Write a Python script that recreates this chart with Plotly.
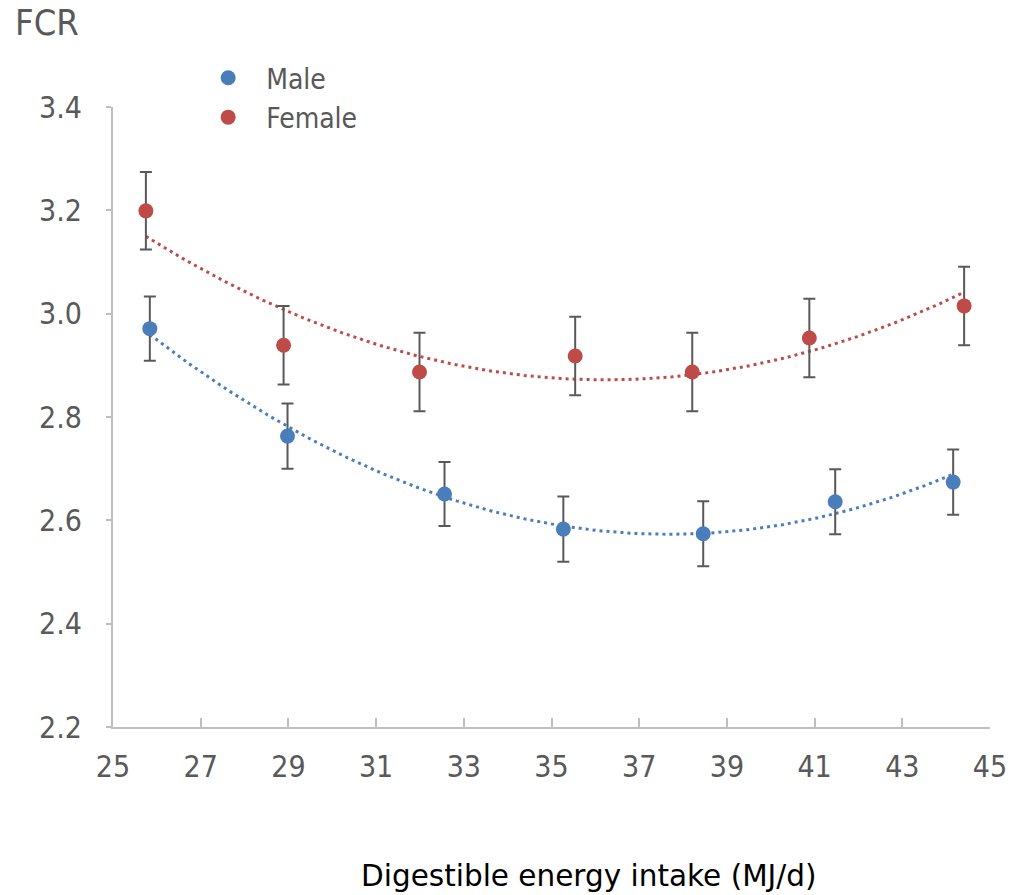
import numpy as np
import plotly.graph_objects as go

# Digestible energy intake (MJ/d) and FCR by sex
male_x = [25.84, 28.98, 32.56, 35.27, 38.46, 41.47, 44.16]
male_y = [2.971, 2.763, 2.651, 2.583, 2.574, 2.636, 2.674]
male_err = [0.062, 0.063, 0.062, 0.063, 0.063, 0.063, 0.063]

female_x = [25.75, 28.89, 31.99, 35.54, 38.21, 40.88, 44.41]
female_y = [3.199, 2.939, 2.887, 2.918, 2.887, 2.953, 3.015]
female_err = [0.075, 0.076, 0.076, 0.076, 0.076, 0.076, 0.076]

x_ticks = [25, 27, 29, 31, 33, 35, 37, 39, 41, 43, 45]
y_ticks = [2.2, 2.4, 2.6, 2.8, 3.0, 3.2, 3.4]

BLUE = "#4A7EBB"
RED = "#BE4B48"
GREY = "#595959"
FONT = "DejaVu Sans Condensed"


def trend(xs, ys):
    """Second-order polynomial trendline over the span of the data."""
    coef = np.polyfit(xs, ys, 2)
    xx = np.linspace(min(xs), max(xs), 200)
    return xx, np.polyval(coef, xx)


fig = go.Figure()

for xs, ys, col in [(female_x, female_y, RED), (male_x, male_y, BLUE)]:
    tx, ty = trend(xs, ys)
    fig.add_trace(go.Scatter(x=tx, y=ty, mode="lines", showlegend=False,
                             hoverinfo="skip",
                             line=dict(color=col, width=3, dash="3px,4px")))

for name, xs, ys, err, col in [("Male", male_x, male_y, male_err, BLUE),
                               ("Female", female_x, female_y, female_err, RED)]:
    fig.add_trace(go.Scatter(
        x=xs, y=ys, mode="markers", name=name,
        marker=dict(color=col, size=15),
        error_y=dict(type="data", array=err, visible=True,
                     color=GREY, thickness=2, width=6),
    ))

fig.update_layout(
    width=1019, height=895,
    margin=dict(l=113, r=22, t=107, b=168),
    plot_bgcolor="white", paper_bgcolor="white",
    font=dict(family=FONT, color=GREY, size=28),
    legend=dict(x=0.088, y=1.087, xanchor="left", yanchor="top",
                bgcolor="rgba(0,0,0,0)", font=dict(size=28, color=GREY),
                itemwidth=66, tracegroupgap=0),
    xaxis=dict(range=[25, 45], tickvals=x_ticks, ticktext=[str(v) for v in x_ticks],
               showgrid=False, zeroline=False, showline=True, linecolor="#BFBFBF",
               linewidth=2, ticks="inside", ticklen=9, tickcolor="#BFBFBF",
               tickwidth=2, ticklabelstandoff=12,
               tickfont=dict(size=30, color=GREY)),
    yaxis=dict(range=[2.2, 3.4], tickvals=y_ticks, ticktext=[f"{v:.1f}" for v in y_ticks],
               showgrid=False, zeroline=False, showline=True, linecolor="#BFBFBF",
               linewidth=2, ticks="outside", ticklen=5, tickcolor="#BFBFBF",
               tickwidth=2, ticklabelstandoff=18,
               tickfont=dict(size=30, color=GREY)),
    annotations=[
        dict(text="FCR", xref="paper", yref="paper", x=-0.114, y=1.10,
             xanchor="left", yanchor="bottom", showarrow=False,
             font=dict(size=36, color=GREY)),
        dict(text="Digestible energy intake (MJ/d)", xref="paper", yref="paper",
             x=0.5425, y=-0.21, xanchor="center", yanchor="top", showarrow=False,
             font=dict(family="DejaVu Sans", size=29.5, color="#000000")),
    ],
)

fig.write_html("out.html")
